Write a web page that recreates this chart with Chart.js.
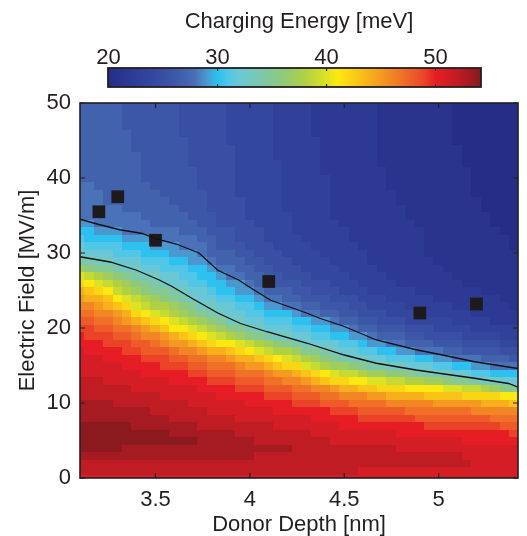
<!DOCTYPE html>
<html>
<head>
<meta charset="utf-8">
<script src="https://cdn.jsdelivr.net/npm/chart.js@4.4.1/dist/chart.umd.min.js"></script>
<style>
  html, body { margin: 0; padding: 0; background: #fff; }
  #wrap { position: relative; width: 527px; height: 536px; }
  canvas { position: absolute; left: 0; top: 0; }
</style>
</head>
<body>
<div id="wrap">
  <canvas id="main" width="527" height="536"></canvas>
  <canvas id="bar" width="527" height="100"></canvas>
</div>
<script>
// Donor depth grid (nm): column centres of the charging-energy map
const depths = [3.1, 3.15, 3.2, 3.25, 3.3, 3.35, 3.4, 3.45, 3.5, 3.55, 3.6, 3.65,
                3.7, 3.75, 3.8, 3.85, 3.9, 3.95, 4.0, 4.05, 4.1, 4.15, 4.2, 4.25,
                4.3, 4.35, 4.4, 4.45, 4.5, 4.55, 4.6, 4.65, 4.7, 4.75, 4.8, 4.85,
                4.9, 4.95, 5.0, 5.05, 5.1, 5.15, 5.2, 5.25, 5.3, 5.35, 5.4];

// Electric field grid (MV/m): row centres
const fields = [0, 1, 2, 3, 4, 5, 6, 7, 8, 9, 10, 11, 12, 13, 14, 15, 16, 17, 18, 19,
                20, 21, 22, 23, 24, 25, 26, 27, 28, 29, 30, 31, 32, 33, 34, 35, 36, 37, 38, 39,
                40, 41, 42, 43, 44, 45, 46, 47, 48, 49, 50];

// Charging energy (meV), one column per depth, listed from 0 up to 50 MV/m
const energyByDepth = [
  /* 3.10 */ [51,52,52,53,54,54,54,54,53,53, 53,52,52,52,51,51,51,51,50,50, 49,48,47,46,45,44,42,40,37,34, 33,32,31,30,29,28,28,28,28,28, 27,27,27,27,27,27,27,27,27,27,27],
  /* 3.15 */ [51,52,52,53,54,54,54,54,53,53, 53,52,52,52,51,51,51,50,50,49, 49,48,47,46,44,43,41,39,36,34, 32,31,30,30,29,28,28,28,28,28, 27,27,27,27,27,27,27,27,27,27,27],
  /* 3.20 */ [51,52,52,53,54,54,54,54,53,53, 53,52,52,52,51,51,51,50,50,49, 48,47,46,45,44,42,40,38,35,33, 32,31,30,29,28,28,28,28,28,27, 27,27,27,27,27,27,27,27,27,27,27],
  /* 3.25 */ [51,52,52,53,54,54,54,54,53,53, 53,52,52,51,51,51,50,50,49,49, 48,47,46,44,43,41,39,37,35,33, 32,31,30,29,28,28,28,27,27,27, 27,27,27,27,27,27,27,27,27,27,27],
  /* 3.30 */ [51,52,52,53,54,54,54,54,53,53, 52,52,52,51,51,51,50,50,49,48, 47,46,45,43,41,39,38,36,34,32, 31,31,30,29,28,28,28,27,27,27, 27,27,27,27,27,27,27,27,27,27,27],
  /* 3.35 */ [51,52,52,53,53,54,54,54,53,53, 52,52,52,51,51,50,50,49,49,48, 47,45,44,42,40,38,37,35,33,32, 31,30,29,28,28,28,27,27,27,27, 27,27,27,27,27,27,27,26,26,26,26],
  /* 3.40 */ [51,52,52,53,53,54,54,53,53,53, 52,52,51,51,51,50,50,49,48,47, 46,44,42,40,39,37,36,34,33,32, 31,30,29,28,28,28,27,27,27,27, 27,27,27,27,26,26,26,26,26,26,26],
  /* 3.45 */ [51,52,52,53,53,54,54,53,53,53, 52,52,51,51,50,50,49,48,48,46, 45,43,41,39,38,36,35,33,32,31, 30,30,29,28,28,27,27,27,27,27, 26,26,26,26,26,26,26,26,26,26,26],
  /* 3.50 */ [51,52,52,53,53,54,54,53,53,52, 52,52,51,51,50,50,49,48,47,46, 44,42,40,38,37,35,34,33,32,31, 30,29,28,28,27,27,27,27,27,26, 26,26,26,26,26,26,26,26,26,26,26],
  /* 3.55 */ [51,52,52,53,53,54,54,53,53,52, 52,51,51,51,50,49,49,48,46,45, 43,41,39,38,36,35,33,32,31,31, 30,29,28,28,27,27,27,27,26,26, 26,26,26,26,26,26,26,26,26,26,26],
  /* 3.60 */ [51,52,52,53,53,54,53,53,52,52, 52,51,51,50,50,49,48,47,45,44, 41,40,38,37,35,34,32,32,31,30, 29,29,28,28,27,27,27,26,26,26, 26,26,26,26,26,26,26,26,26,26,26],
  /* 3.65 */ [51,52,52,53,53,54,53,53,52,52, 52,51,51,50,50,49,48,46,45,43, 41,39,37,36,34,33,32,31,31,30, 29,28,28,27,27,27,26,26,26,26, 26,26,26,26,26,26,25,25,25,25,25],
  /* 3.70 */ [51,52,52,53,53,54,53,53,52,52, 51,51,51,50,49,48,47,46,44,42, 40,38,36,35,33,32,31,31,30,29, 29,28,28,27,27,26,26,26,26,26, 26,26,25,25,25,25,25,25,25,25,25],
  /* 3.75 */ [51,52,52,53,53,53,53,52,52,52, 51,51,50,50,49,48,47,45,43,41, 39,37,35,33,32,32,31,30,30,29, 28,28,27,27,26,26,26,26,26,25, 25,25,25,25,25,25,25,25,25,25,25],
  /* 3.80 */ [51,52,52,53,53,53,53,52,52,51, 51,51,50,49,48,47,46,44,42,40, 38,36,34,33,32,31,30,30,29,28, 27,27,27,26,26,26,25,25,25,25, 25,25,25,25,25,25,25,25,25,25,25],
  /* 3.85 */ [51,52,52,53,53,53,53,52,52,51, 51,50,50,49,48,47,46,44,41,39, 37,35,33,32,31,30,30,29,28,27, 27,26,26,26,25,25,25,25,25,25, 25,25,25,25,25,25,25,25,25,25,25],
  /* 3.90 */ [51,52,52,53,53,53,53,52,52,51, 51,50,50,49,48,47,45,43,41,38, 36,33,32,32,31,30,29,28,28,27, 27,26,26,26,25,25,25,25,25,25, 25,25,25,25,25,24,24,24,24,24,24],
  /* 3.95 */ [51,52,52,53,53,53,52,52,51,51, 51,50,49,48,47,46,44,42,40,37, 35,33,32,31,30,29,29,28,27,27, 26,26,25,25,25,25,25,25,24,24, 24,24,24,24,24,24,24,24,24,24,24],
  /* 4.00 */ [51,52,52,53,53,53,52,52,51,51, 50,50,49,48,47,45,44,41,39,36, 34,32,31,31,30,29,28,27,27,26, 26,25,25,25,25,24,24,24,24,24, 24,24,24,24,24,24,24,24,24,24,24],
  /* 4.05 */ [51,52,52,52,53,52,52,52,51,51, 50,50,49,48,47,45,43,40,38,35, 33,32,31,30,29,28,27,27,26,26, 25,25,25,25,24,24,24,24,24,24, 24,24,24,24,24,24,24,24,24,24,24],
  /* 4.10 */ [51,52,52,52,53,52,52,52,51,51, 50,49,48,47,46,44,42,39,37,34, 32,31,30,29,28,27,27,26,26,25, 25,25,24,24,24,24,24,24,24,24, 24,24,24,24,24,24,24,24,24,24,24],
  /* 4.15 */ [51,52,52,52,53,52,52,51,51,50, 50,49,48,47,45,43,41,38,36,33, 32,31,30,29,28,27,26,26,25,25, 25,24,24,24,24,24,24,24,24,24, 24,24,24,23,23,23,23,23,23,23,23],
  /* 4.20 */ [51,52,52,52,53,52,52,51,51,50, 50,49,48,46,45,42,40,38,35,33, 32,31,30,28,27,27,26,25,25,25, 24,24,24,24,24,24,23,23,23,23, 23,23,23,23,23,23,23,23,23,23,23],
  /* 4.25 */ [51,52,52,52,52,52,52,51,51,50, 49,48,47,46,44,42,39,37,34,32, 31,30,29,28,27,26,26,25,25,24, 24,24,24,23,23,23,23,23,23,23, 23,23,23,23,23,23,23,23,23,23,23],
  /* 4.30 */ [51,52,52,52,52,52,52,51,51,50, 49,48,47,45,43,40,38,35,33,32, 31,30,28,27,26,26,25,25,24,24, 24,24,23,23,23,23,23,23,23,23, 23,23,23,23,23,23,23,23,23,23,23],
  /* 4.35 */ [51,52,52,52,52,52,51,51,50,50, 49,48,46,44,42,39,37,35,32,31, 30,29,28,27,26,25,25,24,24,24, 24,23,23,23,23,23,23,23,23,23, 23,23,23,23,23,23,22,22,22,22,22],
  /* 4.40 */ [51,52,52,52,52,52,51,51,50,50, 48,47,46,43,41,38,36,34,32,31, 30,29,27,26,26,25,25,24,24,24, 23,23,23,23,23,23,23,23,23,23, 23,22,22,22,22,22,22,22,22,22,22],
  /* 4.45 */ [51,52,52,52,52,51,51,51,50,49, 48,47,45,42,40,37,35,33,32,30, 29,28,27,26,25,25,24,24,24,23, 23,23,23,23,23,22,22,22,22,22, 22,22,22,22,22,22,22,22,22,22,22],
  /* 4.50 */ [51,52,52,52,52,51,51,50,50,49, 48,46,44,42,39,37,34,32,31,30, 29,27,26,26,25,24,24,24,23,23, 23,23,23,23,22,22,22,22,22,22, 22,22,22,22,22,22,22,22,22,22,22],
  /* 4.55 */ [51,52,52,52,52,51,51,50,50,49, 47,46,44,41,39,36,33,32,31,29, 28,27,26,25,25,24,24,23,23,23, 23,23,22,22,22,22,22,22,22,22, 22,22,22,22,22,22,22,22,22,22,22],
  /* 4.60 */ [51,51,52,52,52,51,51,50,49,48, 47,46,43,41,38,35,33,31,30,29, 27,26,25,25,24,24,23,23,23,23, 23,22,22,22,22,22,22,22,22,22, 22,22,22,22,22,22,22,22,22,22,22],
  /* 4.65 */ [51,51,52,52,52,51,51,50,49,48, 47,45,43,40,37,34,32,31,29,28, 27,26,25,24,24,23,23,23,23,22, 22,22,22,22,22,22,22,22,22,22, 22,22,22,22,22,22,22,22,22,22,22],
  /* 4.70 */ [51,51,52,52,52,51,51,50,49,48, 47,45,42,40,37,34,32,30,29,27, 26,25,25,24,24,23,23,23,22,22, 22,22,22,22,22,22,22,22,22,22, 22,22,21,21,21,21,21,21,21,21,21],
  /* 4.75 */ [51,51,52,52,52,51,51,50,49,48, 46,44,42,39,36,33,31,30,28,27, 26,25,24,24,23,23,23,22,22,22, 22,22,22,22,22,22,22,22,22,21, 21,21,21,21,21,21,21,21,21,21,21],
  /* 4.80 */ [51,51,52,52,51,51,50,50,49,48, 46,44,42,39,36,33,31,29,28,27, 26,25,24,24,23,23,22,22,22,22, 22,22,22,22,22,22,22,21,21,21, 21,21,21,21,21,21,21,21,21,21,21],
  /* 4.85 */ [51,51,52,52,51,51,50,50,49,47, 46,44,41,38,35,32,31,29,27,26, 25,24,24,23,23,23,22,22,22,22, 22,22,22,22,22,21,21,21,21,21, 21,21,21,21,21,21,21,21,21,21,21],
  /* 4.90 */ [51,51,52,52,51,51,50,50,48,47, 46,44,41,38,34,32,30,28,27,26, 25,24,24,23,23,22,22,22,22,22, 22,22,22,22,21,21,21,21,21,21, 21,21,21,21,21,21,21,21,21,21,21],
  /* 4.95 */ [51,51,52,52,51,51,50,49,48,47, 46,43,41,37,34,32,30,28,27,25, 25,24,23,23,23,22,22,22,22,22, 21,21,21,21,21,21,21,21,21,21, 21,21,21,21,21,21,21,21,21,21,21],
  /* 5.00 */ [51,51,52,52,51,51,50,49,48,47, 45,43,41,37,33,31,29,28,26,25, 24,24,23,23,22,22,22,22,22,21, 21,21,21,21,21,21,21,21,21,21, 21,21,21,21,21,21,21,21,21,21,21],
  /* 5.05 */ [51,51,52,52,51,51,50,49,48,47, 45,43,40,36,33,31,29,27,26,25, 24,24,23,23,22,22,22,22,21,21, 21,21,21,21,21,21,21,21,21,21, 21,21,21,21,21,21,21,21,21,21,21],
  /* 5.10 */ [51,51,52,52,51,51,50,49,48,47, 45,43,40,35,32,30,28,27,26,25, 24,23,23,22,22,22,22,21,21,21, 21,21,21,21,21,21,21,21,21,21, 21,21,21,21,21,20,20,20,20,20,20],
  /* 5.15 */ [51,51,52,51,51,50,50,49,48,47, 45,42,39,35,32,30,28,26,25,24, 24,23,23,22,22,22,21,21,21,21, 21,21,21,21,21,21,21,21,21,21, 21,21,20,20,20,20,20,20,20,20,20],
  /* 5.20 */ [51,51,51,51,51,50,50,49,48,46, 45,42,39,34,31,29,28,26,25,24, 23,23,22,22,22,22,21,21,21,21, 21,21,21,21,21,21,21,21,20,20, 20,20,20,20,20,20,20,20,20,20,20],
  /* 5.25 */ [51,51,51,51,51,50,50,49,48,46, 44,42,38,33,31,29,27,26,25,24, 23,23,22,22,22,21,21,21,21,21, 21,21,21,21,21,21,20,20,20,20, 20,20,20,20,20,20,20,20,20,20,20],
  /* 5.30 */ [51,51,51,51,51,50,50,49,47,46, 44,42,37,33,30,28,27,26,25,24, 23,22,22,22,22,21,21,21,21,21, 21,21,21,21,20,20,20,20,20,20, 20,20,20,20,20,20,20,20,20,20,20],
  /* 5.35 */ [51,51,51,51,51,50,50,48,47,46, 44,41,36,32,30,28,27,25,24,23, 23,22,22,22,21,21,21,21,21,21, 21,21,21,20,20,20,20,20,20,20, 20,20,20,20,20,20,20,20,20,20,20],
  /* 5.40 */ [51,51,51,51,51,50,49,48,47,46, 43,41,35,32,30,28,26,25,24,23, 23,22,22,21,21,21,21,21,21,21, 21,20,20,20,20,20,20,20,20,20, 20,20,20,20,20,20,20,20,20,20,20]
];

// Two constant-energy contours traced over the map
const upperContourDepth = [3.1, 3.2, 3.31, 3.43, 3.5, 3.61, 3.73, 3.83, 3.94, 4.02, 4.11, 4.2, 4.3, 4.37, 4.5, 4.67, 4.88, 5.02, 5.19, 5.42];
const upperContourField = [34.5, 33.8, 33.1, 32.6, 31.9, 31.2, 30.0, 27.7, 26.4, 25.1, 23.7, 22.9, 22.0, 21.3, 20.2, 18.4, 17.1, 16.4, 15.5, 14.6];
const lowerContourDepth = [3.1, 3.26, 3.4, 3.52, 3.59, 3.69, 3.83, 3.95, 4.09, 4.3, 4.5, 4.67, 4.88, 5.02, 5.19, 5.37, 5.42];
const lowerContourField = [29.5, 28.8, 27.7, 26.4, 25.5, 24.0, 22.0, 20.6, 19.5, 18.0, 16.4, 15.3, 14.4, 13.9, 13.3, 12.6, 12.1];

// Measured donors
const markerDepth = [3.2, 3.3, 3.5, 4.1, 4.9, 5.2];
const markerField = [35.5, 37.5, 31.7, 26.2, 22.0, 23.2];

// Tick values
const depthTicks = [3.5, 4, 4.5, 5];
const fieldTicks = [0, 10, 20, 30, 40, 50];
const colorTicks = [20, 30, 40, 50];

// Colour scale limits and stops (meV -> colour)
const cMin = 19.95, cMax = 54.17;
const cmapStops = [
  [20, '#262d86'], [22, '#2d3a94'], [24, '#34479e'], [26, '#3c57a8'], [27, '#4262ae'],
  [28, '#4a72b8'], [29, '#4a98cf'], [30, '#2cc1ef'], [31, '#52c6e6'], [32, '#6ac8d6'],
  [34, '#7cc8ac'], [36, '#8fc97c'], [38, '#b0d144'], [40, '#dce224'], [41, '#fde910'],
  [43, '#f9c318'], [45, '#f49a20'], [47, '#f07028'], [49, '#eb4328'], [50, '#e71d25'],
  [52, '#c01c24'], [54, '#8b1a1e']
];

const FONT = '"Liberation Sans", Arial, Helvetica, sans-serif';
const INK = '#231f20';
const COLORBAR_TITLE = 'Charging Energy [meV]';

function hexRgb(h) {
  return [parseInt(h.slice(1, 3), 16), parseInt(h.slice(3, 5), 16), parseInt(h.slice(5, 7), 16)];
}
function mix(a, b, t) {
  const A = hexRgb(a), B = hexRgb(b);
  const c = A.map((v, k) => Math.round(v + (B[k] - v) * t));
  return 'rgb(' + c.join(',') + ')';
}
function energyColor(v) {
  const s = cmapStops;
  if (v <= s[0][0]) return s[0][1];
  for (let k = 1; k < s.length; k++) {
    if (v <= s[k][0]) return mix(s[k - 1][1], s[k][1], (v - s[k - 1][0]) / (s[k][0] - s[k - 1][0]));
  }
  return s[s.length - 1][1];
}

// Paints the energy map cell by cell through the chart's scales
const heatmapPlugin = {
  id: 'heatmap',
  beforeDatasetsDraw(chart) {
    const { ctx, chartArea: a, scales: { x, y } } = chart;
    const hw = (depths[1] - depths[0]) / 2;
    const hh = (fields[1] - fields[0]) / 2;
    ctx.save();
    ctx.beginPath();
    ctx.rect(a.left, a.top, a.right - a.left, a.bottom - a.top);
    ctx.clip();
    depths.forEach((d, i) => {
      const x0 = Math.floor(x.getPixelForValue(d - hw));
      const x1 = Math.ceil(x.getPixelForValue(d + hw));
      fields.forEach((f, j) => {
        const y0 = Math.floor(y.getPixelForValue(f + hh));
        const y1 = Math.ceil(y.getPixelForValue(f - hh));
        ctx.fillStyle = energyColor(energyByDepth[i][j]);
        ctx.fillRect(x0, y0, x1 - x0, y1 - y0);
      });
    });
    ctx.restore();
  }
};

// Box around the plot with inward tick marks
const framePlugin = {
  id: 'frame',
  afterDatasetsDraw(chart) {
    const { ctx, chartArea: a, scales: { x, y } } = chart;
    ctx.save();
    ctx.strokeStyle = INK;
    ctx.lineWidth = 1.2;
    ctx.beginPath();
    depthTicks.forEach(v => {
      const px = x.getPixelForValue(v);
      ctx.moveTo(px, a.bottom); ctx.lineTo(px, a.bottom - 5);
      ctx.moveTo(px, a.top); ctx.lineTo(px, a.top + 5);
    });
    fieldTicks.forEach(v => {
      const py = y.getPixelForValue(v);
      ctx.moveTo(a.left, py); ctx.lineTo(a.left + 5, py);
      ctx.moveTo(a.right, py); ctx.lineTo(a.right - 5, py);
    });
    ctx.stroke();
    ctx.lineWidth = 1.6;
    ctx.strokeRect(a.left, a.top, a.right - a.left, a.bottom - a.top);
    ctx.restore();
  }
};

// Colour bar gradient, frame, ticks and caption
const colorbarPlugin = {
  id: 'colorbar',
  beforeDatasetsDraw(chart) {
    const { ctx, chartArea: a, scales: { x } } = chart;
    ctx.save();
    for (let px = Math.floor(a.left); px < a.right; px++) {
      ctx.fillStyle = energyColor(x.getValueForPixel(px + 0.5));
      ctx.fillRect(px, a.top, 1, a.bottom - a.top);
    }
    ctx.strokeStyle = INK;
    ctx.lineWidth = 1.2;
    ctx.beginPath();
    colorTicks.forEach(v => {
      const px = x.getPixelForValue(v);
      ctx.moveTo(px, a.top); ctx.lineTo(px, a.top + 3);
      ctx.moveTo(px, a.bottom); ctx.lineTo(px, a.bottom - 3);
    });
    ctx.stroke();
    ctx.lineWidth = 1.8;
    ctx.strokeRect(a.left, a.top, a.right - a.left, a.bottom - a.top);
    ctx.fillStyle = INK;
    ctx.font = '22px ' + FONT;
    ctx.textAlign = 'center';
    ctx.textBaseline = 'middle';
    ctx.fillText(COLORBAR_TITLE, (a.left + a.right) / 2 + 4.5, 21.7);
    ctx.restore();
  }
};

const tickFont = { family: FONT, size: 22 };

new Chart(document.getElementById('main'), {
  type: 'scatter',
  data: {
    datasets: [
      {
        type: 'line',
        data: upperContourDepth.map((d, i) => ({ x: d, y: upperContourField[i] })),
        borderColor: '#111', borderWidth: 1.3, pointRadius: 0, tension: 0, fill: false
      },
      {
        type: 'line',
        data: lowerContourDepth.map((d, i) => ({ x: d, y: lowerContourField[i] })),
        borderColor: '#111', borderWidth: 1.3, pointRadius: 0, tension: 0, fill: false
      },
      {
        type: 'scatter',
        data: markerDepth.map((d, i) => ({ x: d, y: markerField[i] })),
        pointStyle: 'rect', pointRadius: 9, pointHoverRadius: 9,
        backgroundColor: '#1d1a1b', borderColor: '#1d1a1b', borderWidth: 0
      }
    ]
  },
  options: {
    responsive: false,
    animation: false,
    devicePixelRatio: 1,
    events: [],
    layout: { padding: { top: 103, right: 4, left: 0, bottom: 0 } },
    plugins: { legend: { display: false }, tooltip: { enabled: false } },
    scales: {
      x: {
        type: 'linear', min: 3.1, max: 5.42,
        afterBuildTicks: s => { s.ticks = depthTicks.map(v => ({ value: v })); },
        afterFit: s => { s.height = 58; },
        grid: { display: false, drawTicks: false },
        border: { display: false },
        ticks: { padding: 9, color: INK, font: tickFont, maxRotation: 0, autoSkip: false, callback: v => String(v) },
        title: { display: true, text: 'Donor Depth [nm]', color: INK, font: { family: FONT, size: 22, lineHeight: 1 }, padding: 0 }
      },
      y: {
        type: 'linear', min: 0, max: 50,
        afterBuildTicks: s => { s.ticks = fieldTicks.map(v => ({ value: v })); },
        afterFit: s => { s.width = 80; },
        grid: { display: false, drawTicks: false },
        border: { display: false },
        ticks: { padding: 9, color: INK, font: tickFont, autoSkip: false, callback: v => String(v) },
        title: { display: true, text: 'Electric Field [MV/m]', color: INK, font: { family: FONT, size: 22 }, padding: { top: 14.8, bottom: 0 } }
      }
    }
  },
  plugins: [heatmapPlugin, framePlugin]
});

new Chart(document.getElementById('bar'), {
  type: 'scatter',
  data: { datasets: [] },
  options: {
    responsive: false,
    animation: false,
    devicePixelRatio: 1,
    events: [],
    layout: { padding: { left: 108, right: 46, top: 0, bottom: 13 } },
    plugins: { legend: { display: false }, tooltip: { enabled: false } },
    scales: {
      x: {
        type: 'linear', position: 'top', min: cMin, max: cMax,
        afterBuildTicks: s => { s.ticks = colorTicks.map(v => ({ value: v })); },
        afterFit: s => { s.height = 68; },
        grid: { display: false, drawTicks: false },
        border: { display: false },
        ticks: { padding: -3, color: INK, font: tickFont, maxRotation: 0, autoSkip: false, callback: v => String(v) }
      },
      y: { display: false, min: 0, max: 1 }
    }
  },
  plugins: [colorbarPlugin]
});
</script>
</body>
</html>
